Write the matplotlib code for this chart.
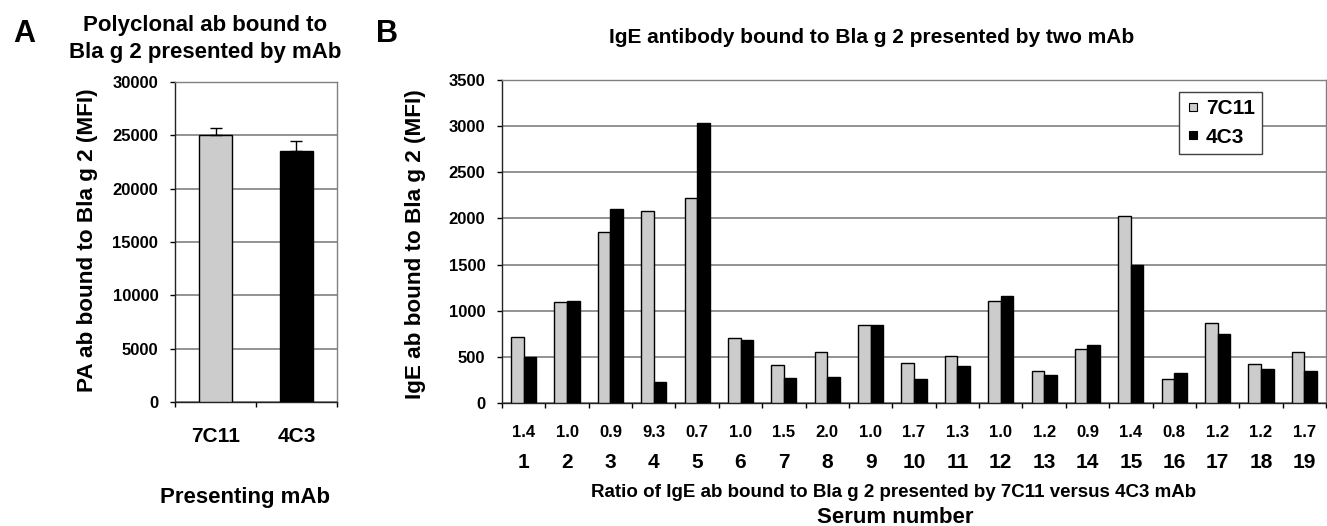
import numpy as np
import matplotlib
matplotlib.use("Agg")
import matplotlib.pyplot as plt
import matplotlib.transforms as mtransforms
from matplotlib.lines import Line2D

plt.rcParams["font.family"] = ["Liberation Sans", "DejaVu Sans"]
plt.rcParams["font.weight"] = "bold"

# Panel A data
mab_names = ["7C11", "4C3"]
pa_values = [25000, 23500]
pa_errors = [650, 1000]

# Panel B data
serum_ids = [str(i) for i in range(1, 20)]
ige_7c11 = [720, 1090, 1850, 2080, 2220, 705, 410, 550, 850, 430,
            510, 1105, 350, 585, 2030, 260, 865, 420, 555]
ige_4c3 = [500, 1100, 2100, 225, 3030, 680, 275, 285, 840, 255,
           400, 1160, 300, 625, 1500, 325, 750, 370, 345]
ratios = ["1.4", "1.0", "0.9", "9.3", "0.7", "1.0", "1.5", "2.0", "1.0", "1.7",
          "1.3", "1.0", "1.2", "0.9", "1.4", "0.8", "1.2", "1.2", "1.7"]

GRAY = "#cccccc"
GRID = "#808080"
W, H = 1327, 526

fig = plt.figure(figsize=(W / 100, H / 100), dpi=100)


def fy(px):
    return 1 - px / H


def fx(px):
    return px / W


def style_axes(ax):
    ax.yaxis.grid(True, color=GRID, lw=1.2)
    ax.set_axisbelow(True)
    for s in ["top", "right"]:
        ax.spines[s].set_color(GRID)
        ax.spines[s].set_linewidth(1.0)
    for s in ["left", "bottom"]:
        ax.spines[s].set_color("#222222")
        ax.spines[s].set_linewidth(1.0)
    ax.tick_params(axis="y", direction="out", length=3.5, width=1, labelsize=12, pad=8.5)
    ax.tick_params(axis="x", direction="out", length=3.5, width=1, labelbottom=False)
    for lab in ax.get_yticklabels():
        lab.set_fontweight("bold")


def ftext(x, y, s, size, **kw):
    # place text using pixel coords of the reference
    kw.setdefault("ha", "center")
    kw.setdefault("va", "baseline")
    fig.text(fx(x), fy(y), s, fontsize=size, fontweight="bold", **kw)


# ---- Panel A ----
axA = fig.add_axes([fx(175), fy(402), fx(162), 320 / H])
xa = np.arange(len(mab_names)) + 0.5
axA.bar(xa, pa_values, width=0.4, color=[GRAY, "black"], edgecolor="black", lw=1.0, zorder=3)
axA.errorbar(xa, pa_values, yerr=[[0, 0], pa_errors], fmt="none", ecolor="black",
             elinewidth=1.0, capsize=4, capthick=1.0, zorder=4)
axA.set_xlim(0, len(mab_names))
axA.set_ylim(0, 30000)
axA.set_yticks(range(0, 30001, 5000))
axA.set_xticks(range(0, len(mab_names) + 1))
style_axes(axA)
trA = mtransforms.blended_transform_factory(axA.transData, fig.transFigure)
for x, name in zip(xa, mab_names):
    axA.text(x, fy(442), name, transform=trA, ha="center", va="baseline", fontsize=15, fontweight="bold")

ftext(245, 503, "Presenting mAb", 16)
ftext(88, 240, "PA ab bound to Bla g 2 (MFI)", 16.2, rotation=90, va="center")
ftext(205, 31, "Polyclonal ab bound to", 16)
ftext(205, 58, "Bla g 2 presented by mAb", 16)
ftext(24, 42, "A", 22)

# ---- Panel B ----
axB = fig.add_axes([fx(502), fy(403), fx(824), 323 / H])
xb = np.arange(len(serum_ids)) + 0.5
bw = 0.29
axB.bar(xb - bw / 2, ige_7c11, width=bw, color=GRAY, edgecolor="black", lw=1.0, zorder=3)
axB.bar(xb + bw / 2, ige_4c3, width=bw, color="black", edgecolor="black", lw=1.0, zorder=3)
axB.set_xlim(0, len(serum_ids))
axB.set_ylim(0, 3500)
axB.set_yticks(range(0, 3501, 500))
axB.set_xticks(range(0, len(serum_ids) + 1))
style_axes(axB)
trB = mtransforms.blended_transform_factory(axB.transData, fig.transFigure)
for x, r, s in zip(xb, ratios, serum_ids):
    axB.text(x, fy(437), r, transform=trB, ha="center", va="baseline", fontsize=12, fontweight="bold")
    axB.text(x, fy(468), s, transform=trB, ha="center", va="baseline", fontsize=15, fontweight="bold")

ftext(894, 497, "Ratio of IgE ab bound to Bla g 2 presented by 7C11 versus 4C3 mAb", 13.5)
ftext(895, 523, "Serum number", 16)
ftext(872, 43, "IgE antibody bound to Bla g 2 presented by two mAb", 15)
ftext(416, 244, "IgE ab bound to Bla g 2 (MFI)", 16.2, rotation=90, va="center")
ftext(387, 42, "B", 22)

handles = [Line2D([], [], ls="none", marker="s", markersize=6, markerfacecolor=GRAY,
                  markeredgecolor="black", markeredgewidth=0.8, label=mab_names[0]),
           Line2D([], [], ls="none", marker="s", markersize=6, markerfacecolor="black",
                  markeredgecolor="black", markeredgewidth=0.8, label=mab_names[1])]
leg = axB.legend(handles=handles, loc="upper left",
                 bbox_to_anchor=((1179 - 502) / 824, (403 - 92) / 323),
                 frameon=True, fancybox=False, edgecolor="#404040", framealpha=1,
                 prop={"weight": "bold", "size": 15},
                 handlelength=0.6, handletextpad=0.35, borderpad=0.35, labelspacing=0.45,
                 borderaxespad=0)
leg.get_frame().set_linewidth(1.0)

fig.savefig("out.png", dpi=100)
